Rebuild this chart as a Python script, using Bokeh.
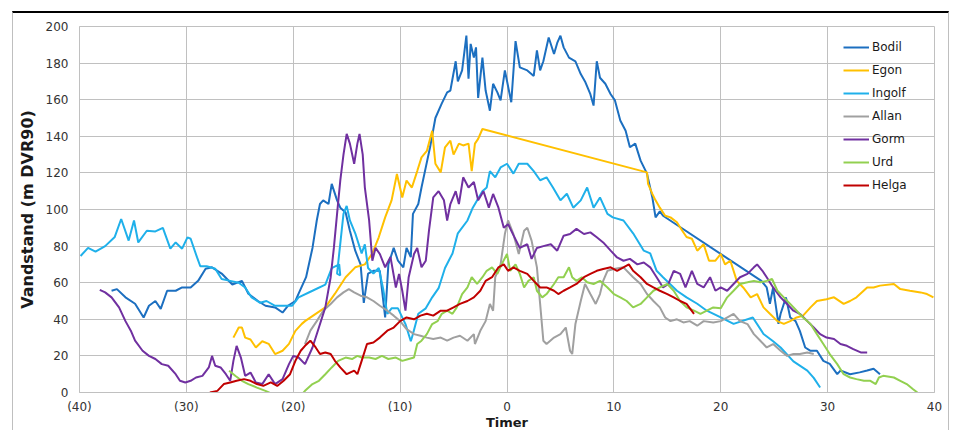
from bokeh.plotting import figure
from bokeh.models import Range1d, FixedTicker, Legend, LegendItem
from bokeh.embed import file_html
from bokeh.resources import INLINE

# ---------------- data (hours relative to peak, water level in m DVR90) -------------
x_ticks = [-40, -30, -20, -10, 0, 10, 20, 30, 40]
x_tick_labels = ["(40)", "(30)", "(20)", "(10)", "0", "10", "20", "30", "40"]
y_ticks = [0, 20, 40, 60, 80, 100, 120, 140, 160, 180, 200]

bodil_t = [-37.0, -36.5, -35.7, -34.8, -34.0, -33.5, -32.9, -32.4, -31.8, -31.0, -30.4, -29.6,
           -28.9, -28.2, -27.6, -26.7, -25.7, -24.8, -24.2, -23.3, -22.6, -21.7, -21.0, -20.5,
           -19.8, -19.5, -18.8, -18.2, -17.8, -17.5, -17.2, -16.7, -16.4, -15.9, -15.6, -15.1,
           -14.7, -14.2, -13.7, -13.4, -13.0, -12.5, -11.9, -11.4, -11.1, -10.6, -10.2, -9.7,
           -9.4, -9.0, -8.8, -8.3, -8.0, -7.6, -7.2, -6.7, -6.1, -5.6, -5.3, -4.8, -4.6, -4.2,
           -3.8, -3.6, -3.4, -3.1, -2.9, -2.7, -2.3, -2.0, -1.6, -1.3, -0.9, -0.6, -0.2, 0.4,
           0.8, 1.2, 1.9, 2.5, 2.8, 3.1, 3.4, 3.9, 4.4, 4.7, 5.0, 5.3, 5.8, 6.4, 6.9, 7.3, 7.8,
           8.1, 8.4, 8.7, 9.2, 9.7, 10.1, 10.6, 11.1, 11.5, 12.0, 12.5, 13.1, 13.6, 13.9, 14.3,
           14.6, 23.8, 24.3, 24.6, 24.9, 25.4, 25.6, 26.1, 26.5, 27.0, 27.4, 27.9, 28.4, 29.0,
           29.6, 30.2, 30.9, 31.2, 32.1, 33.0, 33.7, 34.3, 34.9]
bodil_v = [55.6, 56.5, 52, 48.5, 41, 47.4, 50, 45.7, 55.6, 55.6, 57.4, 57.4,
           61, 67.6, 68.4, 65, 59, 61, 54, 50, 47.4, 46.5, 43.7, 47.4,
           50, 54, 63, 79, 94, 103, 105, 103, 114, 105, 101, 98.4,
           88.4, 77.5, 70, 49, 65, 66.5, 66.5, 41, 70, 79, 72, 68.4,
           79, 74, 97.6, 103, 112, 123, 134, 150, 158, 164, 165, 181, 170, 176,
           195, 171.5, 190.5, 183, 188.6, 161, 183, 165, 154, 168.7, 164, 159.6, 176, 158.6,
           192, 177.7, 176, 173, 187, 176, 181, 194, 185, 191, 195, 188.6, 183, 181, 174, 170, 163,
           156.8, 181, 172, 168.7, 163, 159.6, 148.6, 143, 134, 136, 126.7, 119.6, 106.6, 95.7, 99,
           96.6, 61, 57.4, 48.5, 57.4, 37.5, 43, 52, 41, 39, 33.7, 24.6, 22.8, 22.8,
           17.3, 15.6, 10, 12, 10, 11, 12, 13, 10]

egon_t = [-25.6, -25.1, -24.8, -24.5, -24.0, -23.5, -22.9, -22.3, -21.7, -21.0, -20.4, -19.8,
          -19.2, -18.9, -17.9, -17.0, -16.1, -15.1, -14.2, -13.3, -12.6, -12.0, -11.4, -10.8,
          -10.3, -9.8, -9.4, -8.9, -8.4, -8.0, -7.5, -7.0, -6.7, -6.2, -5.8, -5.3, -5.0, -4.5,
          -4.1, -3.6, -3.3, -3.0, -2.7, -2.3, 13.1, 13.2, 13.6, 13.9, 14.3, 14.8, 15.3, 15.9,
          16.4, 16.8, 17.3, 17.8, 18.4, 18.9, 19.5, 20.0, 20.4, 20.9, 21.5, 22.1, 22.8, 23.4,
          24.0, 24.6, 25.3, 25.9, 26.5, 27.1, 27.7, 28.4, 29.0, 29.9, 30.6, 31.5, 32.1, 32.7,
          33.7, 34.3, 34.9, 36.2, 36.8, 37.7, 38.7, 39.3, 39.9]
egon_v = [30, 35.5, 35.5, 30, 29, 24.6, 28, 26.6, 21, 22.8, 26.6, 33.7,
          37.5, 39, 43, 46.5, 54, 63, 68.4, 70, 76, 84.8, 95.7, 105,
          119.4, 106.6, 115.8, 112, 121, 128.5, 132, 143, 125, 120.3, 134, 137.6, 130, 136,
          135, 136, 121, 136, 138.6, 144, 120.3, 114, 108.5, 105, 101, 96.6, 95.7, 93,
          88.4, 85, 84, 77.5, 81, 72, 72, 75.7, 70, 72, 61, 57.4, 52, 53.8,
          46.5, 43, 39, 37.5, 39, 41, 42, 46.5, 50, 51, 52, 48.4, 50, 52,
          57.4, 57.4, 58.4, 59.3, 56.5, 55.6, 54.7, 53.8, 52]

ingolf_t = [-39.9, -39.2, -38.5, -37.6, -36.7, -36.1, -35.4, -34.9, -34.5, -33.7, -32.9, -32.2,
            -31.5, -31.0, -30.4, -29.9, -29.6, -29.0, -28.7, -28.1, -27.3, -26.7, -25.9, -25.1,
            -24.5, -23.9, -23.1, -22.5, -21.7, -20.9, -20.1, -19.5, -18.2, -17.0, -16.4, -15.7,
            -15.6, -15.9, -15.3, -15.0, -14.7, -14.2, -13.6, -13.3, -13.0, -12.5, -12.0, -11.6,
            -11.2, -10.8, -10.2, -9.5, -9.0, -8.8, -8.3, -7.6, -7.0, -6.4, -5.8, -5.1, -4.6,
            -3.7, -3.2, -2.3, -1.9, -1.6, -1.1, -0.6, 0.0, 0.6, 1.1, 1.9, 2.5, 3.1, 3.7, 4.3,
            5.0, 5.6, 6.2, 6.9, 7.5, 8.1, 8.7, 9.4, 9.9, 10.9, 11.8, 12.8, 13.4, 14.0, 14.6,
            15.3, 15.9, 16.8, 17.8, 18.7, 20.0, 21.2, 23.0, 24.0, 24.9, 25.6, 26.8, 28.1, 28.7,
            29.3]
ingolf_v = [74.6, 79, 77, 80, 85, 94.8, 83, 94, 82, 88.4, 88, 90,
            78.6, 82, 78.6, 84.8, 84, 73.8, 69, 69, 67.6, 62, 61, 60,
            57.4, 52, 49, 50, 47.4, 47.4, 47.4, 52, 55.6, 59, 68, 70,
            64, 65, 97.6, 102, 94, 87, 76, 81, 68, 65, 68, 57,
            43, 46, 46, 37.4, 28, 32, 43, 46, 52, 57, 68, 76, 87,
            94, 101, 110, 112, 121, 117.6, 123, 125, 119.6, 125, 125, 121, 116, 117.6, 112,
            105, 108.6, 101, 105, 112, 101, 106.6, 97.6, 95.7, 94, 87, 77.5, 76, 66.5, 63,
            59, 55.6, 52, 48.5, 44.7, 41, 37.5, 41, 32, 28, 24.6, 17, 12, 8,
            2.7]

allan_t = [-18.9, -18.4, -17.8, -17.2, -16.5, -15.9, -15.3, -14.8, -14.3, -13.7, -13.1, -12.5,
           -11.9, -11.2, -10.6, -10.0, -9.4, -8.7, -8.1, -7.5, -6.9, -6.2, -5.6, -5.0, -4.4,
           -3.7, -3.1, -3.0, -2.5, -2.0, -1.6, -1.3, -1.1, -0.6, -0.2, 0.1, 0.6, 1.1, 1.6, 1.9,
           2.3, 2.8, 3.1, 3.4, 3.7, 4.4, 5.0, 5.5, 5.9, 6.1, 6.4, 6.9, 7.3, 7.8, 8.3, 8.7, 9.0,
           9.4, 10.0, 10.9, 11.8, 12.5, 13.1, 13.7, 14.3, 14.8, 15.3, 15.9, 16.5, 17.1, 17.8,
           18.4, 19.3, 20.0, 21.2, 21.8, 22.5, 23.1, 23.7, 24.3, 24.9, 25.6, 26.2, 26.8, 27.4,
           28.1, 28.7]
allan_v = [26.5, 33.8, 39, 44.7, 48.4, 52, 54.7, 56.5, 54.7, 52.9, 52, 50,
           47.4, 44.7, 42, 39, 34.7, 31.9, 31, 30, 29.2, 30, 28.3, 30, 31,
           28.3, 31.9, 26.5, 33.7, 39, 48.4, 44.7, 63, 70, 86.6, 94, 86.6, 75.7, 88.4, 90,
           83, 68.4, 48.4, 28.3, 26.5, 30, 31.9, 35.5, 22.8, 21, 37.4, 50, 59.3, 53.8, 48.4, 53.8, 61,
           66.5, 67.5, 68.4, 63, 59.3, 53.8, 50, 46.5, 41, 39, 40, 38.3, 39, 36.5,
           39, 38.3, 39, 43, 39, 37.4, 31.9, 28.3, 24.6, 26.5, 22.8, 20, 21, 21,
           21.9, 21]

gorm_t = [-38.1, -37.6, -37.0, -36.3, -35.7, -35.2, -34.8, -34.1, -33.5, -32.9, -32.3, -31.7,
          -31.0, -30.6, -30.1, -29.6, -29.1, -28.5, -27.9, -27.6, -27.3, -26.8, -26.3, -25.9,
          -25.6, -25.3, -24.9, -24.5, -24.0, -23.5, -22.9, -22.3, -21.7, -21.0, -20.4, -20.0,
          -19.5, -18.9, -18.2, -17.6, -17.0, -16.5, -16.2, -15.9, -15.6, -15.3, -15.0, -14.7,
          -14.3, -14.0, -13.8, -13.5, -13.3, -12.9, -12.6, -12.3, -11.9, -11.4, -10.9, -10.4,
          -10.1, -9.8, -9.5, -9.2, -8.7, -8.4, -8.0, -7.6, -7.3, -6.9, -6.4, -5.9, -5.6, -5.3,
          -4.8, -4.5, -4.1, -3.6, -3.1, -2.7, -2.2, -1.7, -1.3, -0.8, -0.3, 0.1, 0.6, 1.2, 1.9,
          2.3, 2.8, 3.4, 4.1, 4.7, 5.3, 5.9, 6.5, 7.2, 7.8, 8.4, 9.0, 9.7, 10.3, 10.9, 11.5,
          12.2, 12.8, 13.4, 14.0, 14.6, 15.1, 15.6, 16.2, 16.7, 17.3, 17.8, 18.4, 19.0, 19.5,
          20.0, 20.6, 21.2, 21.8, 22.5, 23.1, 23.4, 23.9, 24.3, 24.9, 25.6, 26.2, 26.8, 27.4,
          28.1, 28.7, 29.3, 29.9, 30.6, 31.2, 31.8, 32.4, 33.1, 33.7]
gorm_v = [56.1, 54.7, 52, 46.5, 39, 33.8, 28.3, 22.8, 20, 18.3, 15.5, 14.6,
          10, 6.4, 5.5, 6.4, 8.2, 9.1, 13.7, 20, 14.6, 13.7, 10, 6.4,
          17.3, 25.5, 19.1, 9.1, 10.9, 5.5, 4.6, 10, 4.6, 7.3, 15.5, 20,
          19.1, 15.5, 24.6, 35.5, 46.5, 63, 79, 97.6, 115.8, 130, 141.3, 136,
          125, 136, 141.3, 130, 112, 94, 72, 79, 75.7, 68.4, 74, 57.4,
          64.8, 55.6, 44.7, 63, 75.7, 79, 68.4, 72, 88.4, 106.6, 110, 105, 94, 103,
          110, 103, 117.6, 112, 115, 105, 110, 101, 108.5, 101, 90, 92, 86, 79, 81,
          73, 79, 80, 81, 77.5, 85.7, 86.6, 89.4, 86.6, 87.5, 84.8, 82, 77.5, 73.8, 72, 73,
          70, 71, 68.4, 63, 57.4, 59.3, 66.5, 64.8, 57.4, 66.5, 59.3, 57.4, 63, 55.6,
          57.4, 55.6, 59.3, 63, 64.8, 68.4, 70, 66.5, 63, 57.4, 52, 48.4, 44.7, 43,
          39, 35.5, 31.9, 30, 29.2, 26.5, 25.5, 23.7, 21.9, 21.9]

urd_t = [-26.0, -25.4, -24.8, -24.2, -23.4, -22.6, -21.5, -20.5, -19.5, -18.9, -18.2, -17.6,
         -17.0, -16.4, -15.8, -15.1, -14.5, -14.0, -13.6, -12.9, -12.3, -11.7, -11.1, -10.4,
         -9.8, -9.2, -8.7, -8.4, -8.0, -7.5, -7.0, -6.5, -6.1, -5.6, -5.1, -4.7, -4.2, -3.7,
         -3.3, -2.8, -2.3, -1.9, -1.4, -0.9, -0.5, 0.0, 0.3, 0.8, 1.2, 1.6, 2.0, 2.5, 2.8,
         3.3, 3.7, 4.4, 4.8, 5.3, 5.8, 6.1, 6.5, 7.0, 7.5, 8.1, 8.7, 9.4, 10.0, 10.6, 11.2,
         11.8, 12.5, 13.1, 13.7, 14.3, 15.0, 15.6, 16.2, 16.8, 17.5, 18.1, 18.7, 19.3, 20.0,
         20.6, 21.2, 21.8, 22.5, 23.1, 23.7, 24.3, 24.8, 25.3, 25.9, 26.5, 27.1, 27.7, 28.4,
         29.0, 29.6, 30.2, 30.9, 31.5, 32.1, 32.7, 33.4, 34.0, 34.5, 34.8, 35.2, 36.2, 36.8,
         37.4, 38.0, 38.4]
urd_v = [11.9, 9, 6.4, 4.6, 2.7, 0.9, -2, -4, -3, 0.9, 4.6, 6.4,
         10, 13.7, 17.3, 19.1, 18.3, 20, 19.1, 19.1, 18.3, 20, 18.3, 19.1,
         17.3, 18.3, 19.1, 26.5, 28.3, 31.9, 37.4, 39, 43, 44.7, 43, 46.5, 53.8, 57.4,
         63, 59.3, 63, 66.5, 68.4, 64.8, 70, 75.7, 66.5, 70, 64.8, 57.4, 61, 63, 55.6,
         52, 53.8, 59.3, 63, 63, 68.4, 63, 61, 63, 60.2, 59.3, 61, 57.4, 53.8, 52, 50,
         46.5, 48.4, 52, 55.6, 57.4, 59.3, 55.6, 50, 46.5, 44.7, 43, 44.7, 46.5, 46,
         52, 55.6, 59.3, 60.2, 61, 60.2, 61, 62, 55.6, 52, 48.4, 44.7, 41, 37.4,
         31.9, 26.5, 21, 15.5, 10, 8.2, 7.3, 6.4, 6.4, 4.6, 8.2, 9.1, 8.2, 6.4,
         4.6, 1.8, 0]

helga_t = [-27.8, -27.1, -26.5, -25.9, -25.3, -24.6, -24.0, -23.4, -22.8, -22.1, -21.5, -20.9,
           -20.3, -19.8, -19.3, -18.9, -18.4, -17.9, -17.5, -17.0, -16.5, -16.1, -15.6, -15.0,
           -14.3, -14.0, -13.6, -13.1, -12.5, -11.9, -11.2, -10.6, -10.0, -9.4, -8.7, -8.1,
           -7.5, -6.9, -6.2, -5.6, -5.0, -4.4, -3.7, -3.1, -2.5, -2.0, -1.4, -0.8, -0.3, 0.1,
           0.6, 1.2, 1.9, 2.5, 3.1, 3.7, 4.4, 4.8, 5.3, 5.9, 6.5, 7.2, 7.8, 8.4, 9.0, 9.7,
           10.3, 10.9, 11.4, 11.8, 12.5, 13.1, 13.7, 14.3, 15.0, 15.6, 16.2, 16.8, 17.5]
helga_v = [0, 0.9, 4.6, 5.5, 6.4, 7.3, 6.4, 4.6, 3.6, 5.5, 3.6, 6.4,
           10, 17.3, 22.8, 25.5, 28.3, 24.6, 21, 21.9, 21, 17.3, 13.7, 10,
           12, 10, 17.3, 26.5, 27.3, 30, 33.8, 35.5, 39, 41, 40, 42,
           43, 42, 44.7, 44.7, 46.5, 48.4, 50, 52, 55.6, 61, 63, 68.4, 70, 66.5,
           68.4, 66.5, 64.8, 61, 57.4, 57.4, 55.6, 53.8, 55.6, 57.4, 59.3, 63, 64.8, 66.5, 67.5, 68.4,
           66.5, 68.4, 70, 66.5, 63, 59.3, 57.4, 55.6, 53.8, 52, 50, 48.4, 43]

series_names = ["Bodil", "Egon", "Ingolf", "Allan", "Gorm", "Urd", "Helga"]
series_t = [bodil_t, egon_t, ingolf_t, allan_t, gorm_t, urd_t, helga_t]
series_v = [bodil_v, egon_v, ingolf_v, allan_v, gorm_v, urd_v, helga_v]
series_colors = ["#1C6FC0", "#FFC000", "#1FB0EA", "#A0A0A0", "#7030A0", "#92D050", "#C00000"]

FONT = "DejaVu Sans"
GRID = "#C0C0C0"
TEXT = "#333333"

p = figure(width=937, height=419, output_backend="svg", toolbar_location=None,
           x_range=Range1d(-40, 40), y_range=Range1d(0, 200),
           min_border_left=66, min_border_right=16, min_border_top=13, min_border_bottom=40)
p.styles = {"margin-top": "11px", "margin-left": "12px",
            "border-top": "2px solid #000000", "border-left": "1px solid #BFBFBF",
            "border-right": "1px solid #BFBFBF"}
p.background_fill_color = "white"
p.border_fill_color = "white"
p.outline_line_color = GRID

p.xaxis.ticker = FixedTicker(ticks=x_ticks)
p.yaxis.ticker = FixedTicker(ticks=y_ticks)
p.xaxis.major_label_overrides = {t: lab for t, lab in zip(x_ticks, x_tick_labels)}
for ax in (p.xaxis, p.yaxis):
    ax.axis_line_color = GRID
    ax.major_tick_line_color = None
    ax.minor_tick_line_color = None
    ax.major_tick_out = 0
    ax.major_tick_in = 0
    ax.minor_tick_out = 0
    ax.minor_tick_in = 0
    ax.major_label_text_font = FONT
    ax.major_label_text_font_size = "12px"
    ax.major_label_text_color = TEXT
    ax.axis_label_text_font = FONT
    ax.axis_label_text_font_style = "bold"
    ax.axis_label_text_color = "#1a1a1a"
p.xaxis.major_label_standoff = 7
p.yaxis.major_label_standoff = 11
p.yaxis.axis_label = "Vandstand (m DVR90)"
p.yaxis.axis_label_text_font_size = "16px"
p.yaxis.axis_label_standoff = 6
p.xaxis.axis_label = "Timer"
p.xaxis.axis_label_text_font_size = "13px"
p.xaxis.axis_label_standoff = -2
p.xgrid.grid_line_color = GRID
p.ygrid.grid_line_color = GRID

items = []
for name, t, v, c in zip(series_names, series_t, series_v, series_colors):
    r = p.line(t, v, line_color=c, line_width=2)
    items.append(LegendItem(label=name, renderers=[r]))

legend = Legend(items=items, location=(764, 197), padding=0, margin=0, spacing=3,
                glyph_width=26, glyph_height=20, label_height=20, label_standoff=3,
                label_text_font=FONT, label_text_font_size="12px", label_text_color="#1a1a1a",
                background_fill_alpha=0, border_line_color=None)
p.add_layout(legend)

open("out.html", "w").write(file_html(p, INLINE))
